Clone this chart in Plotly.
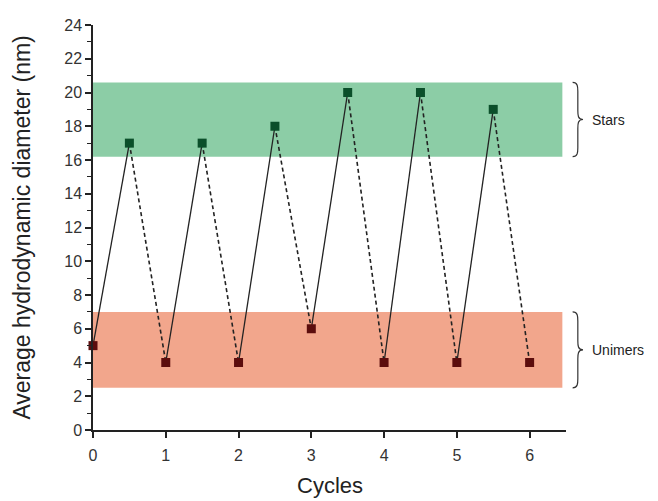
import plotly.graph_objects as go

cycles = [0, 0.5, 1, 1.5, 2, 2.5, 3, 3.5, 4, 4.5, 5, 5.5, 6]
diameter = [5, 17, 4, 17, 4, 18, 6, 20, 4, 20, 4, 19, 4]
x_ticks = [0, 1, 2, 3, 4, 5, 6]
y_ticks = [0, 2, 4, 6, 8, 10, 12, 14, 16, 18, 20, 22, 24]
stars_band = [16.2, 20.6]
unimers_band = [2.5, 7.0]
band_labels = ["Stars", "Unimers"]

GREEN_BAND = "rgba(120,196,150,0.85)"
RED_BAND = "rgba(240,150,120,0.85)"
HIGH = "#0b4f2a"
LOW = "#5c0d0d"

# solid (rising) and dashed (falling) segments
sx, sy, dx, dy = [], [], [], []
for i in range(len(cycles) - 1):
    if diameter[i + 1] > diameter[i]:
        sx += [cycles[i], cycles[i + 1], None]
        sy += [diameter[i], diameter[i + 1], None]
    else:
        dx += [cycles[i], cycles[i + 1], None]
        dy += [diameter[i], diameter[i + 1], None]

fig = go.Figure()
fig.add_trace(go.Scatter(x=sx, y=sy, mode="lines",
                         line=dict(color="#222", width=1.3), hoverinfo="skip"))
fig.add_trace(go.Scatter(x=dx, y=dy, mode="lines",
                         line=dict(color="#222", width=1.6, dash="4px,3px"), hoverinfo="skip"))
colors = [HIGH if (i % 2 == 1) else LOW for i in range(len(cycles))]
fig.add_trace(go.Scatter(x=cycles, y=diameter, mode="markers",
                         marker=dict(symbol="square", size=9, color=colors,
                                     line=dict(width=0)), cliponaxis=False))

# bands
fig.add_shape(type="rect", xref="x", yref="y", x0=0, x1=6.45,
              y0=stars_band[0], y1=stars_band[1], fillcolor=GREEN_BAND,
              line=dict(width=0), layer="below")
fig.add_shape(type="rect", xref="x", yref="y", x0=0, x1=6.45,
              y0=unimers_band[0], y1=unimers_band[1], fillcolor=RED_BAND,
              line=dict(width=0), layer="below")


def brace(y0, y1, xl=1.014, xr=1.036):
    ym = (y0 + y1) / 2
    xm = (xl + xr) / 2
    h = (y1 - y0)
    e = h * 0.06
    return (f"M {xl},{y1} C {xm},{y1} {xm},{y1 - e} {xm},{y1 - 2*e} "
            f"L {xm},{ym + 2*e} C {xm},{ym + e} {xm},{ym} {xr},{ym} "
            f"C {xm},{ym} {xm},{ym - e} {xm},{ym - 2*e} "
            f"L {xm},{y0 + 2*e} C {xm},{y0 + e} {xm},{y0} {xl},{y0}")


for band, lab in zip([stars_band, unimers_band], band_labels):
    fig.add_shape(type="path", xref="paper", yref="y",
                  path=brace(band[0], band[1]), line=dict(color="#333", width=1.2))
    fig.add_annotation(xref="paper", yref="y", x=1.05, y=(band[0] + band[1]) / 2,
                       text=lab, showarrow=False, xanchor="left",
                       font=dict(size=14, color="#222"))

# axis titles
fig.add_annotation(xref="paper", yref="paper", x=-0.152, y=0.5,
                   xanchor="center", yanchor="middle",
                   text="Average hydrodynamic diameter (nm)", textangle=-90,
                   showarrow=False, font=dict(size=23, color="#222"))
fig.add_annotation(xref="paper", yref="paper", x=0.5, y=-0.136,
                   xanchor="center", yanchor="middle",
                   text="Cycles", showarrow=False, font=dict(size=22, color="#222"))

# note: page body adds an 8px offset, margins compensate
fig.update_layout(
    width=658, height=501,
    margin=dict(l=85, r=100, t=17, b=79),
    paper_bgcolor="white", plot_bgcolor="white",
    showlegend=False,
    font=dict(family="Liberation Sans, Arial, sans-serif", color="#222"),
)
fig.update_xaxes(range=[0, 6.5], tickvals=x_ticks, ticks="outside", ticklen=6,
                 tickwidth=1.5, tickcolor="#222", showline=True, linecolor="#222",
                 linewidth=1.5, showgrid=False, zeroline=False, automargin=False,
                 ticklabelstandoff=4,
                 tickfont=dict(size=16, color="#333"))
fig.update_yaxes(range=[0, 24], tickvals=y_ticks, ticks="outside", ticklen=6,
                 tickwidth=1.5, tickcolor="#222", showline=True, linecolor="#222",
                 linewidth=1.5, showgrid=False, zeroline=False, automargin=False,
                 minor=dict(dtick=1, ticks="outside", ticklen=4, tickcolor="#222", tickwidth=1.2),
                 tickfont=dict(size=16, color="#333"))

fig.write_html("out.html")
